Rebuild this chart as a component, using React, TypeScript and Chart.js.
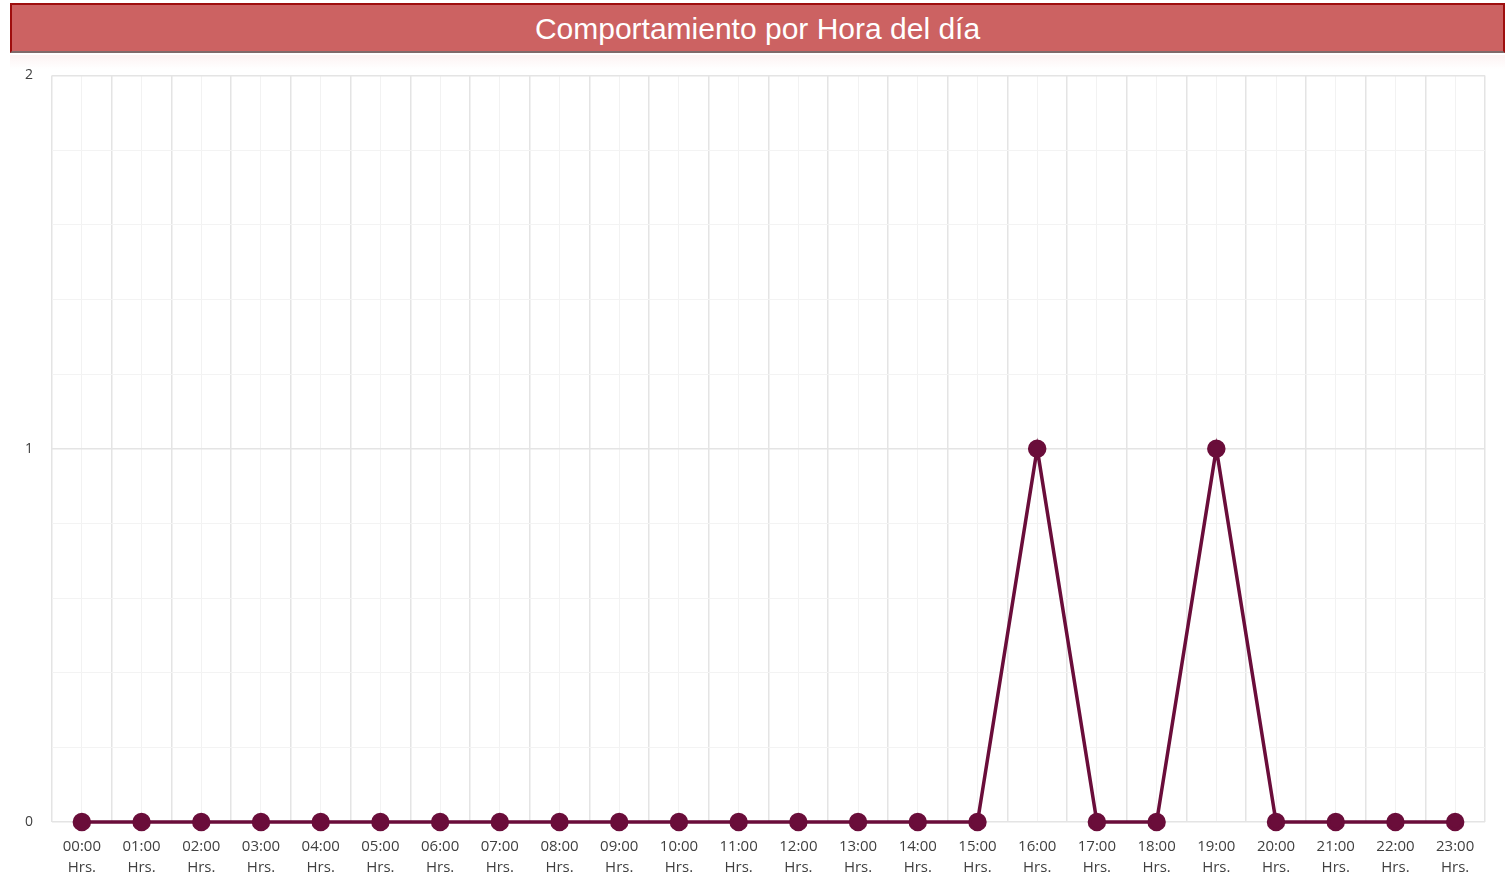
import React, { useEffect, useRef } from "react";
import { Chart, registerables } from "chart.js";

Chart.register(...registerables);

const TITLE = "Comportamiento por Hora del día";
const HOURS = [
  "00:00", "01:00", "02:00", "03:00", "04:00", "05:00", "06:00", "07:00",
  "08:00", "09:00", "10:00", "11:00", "12:00", "13:00", "14:00", "15:00",
  "16:00", "17:00", "18:00", "19:00", "20:00", "21:00", "22:00", "23:00",
];
const SUFFIX = "Hrs.";
const VALUES = [0, 0, 0, 0, 0, 0, 0, 0, 0, 0, 0, 0, 0, 0, 0, 0, 1, 0, 0, 1, 0, 0, 0, 0];
const Y_MIN = 0;
const Y_MAX = 2;
const Y_STEP = 0.2;

export default function App() {
  const ref = useRef<HTMLCanvasElement | null>(null);

  useEffect(() => {
    if (!ref.current) return;
    const labels = HOURS.map((h) => [h, SUFFIX]);
    const chart = new Chart(ref.current, {
      type: "line",
      data: {
        labels,
        datasets: [
          {
            data: VALUES,
            borderColor: "#6A0D3A",
            backgroundColor: "#6A0D3A",
            borderWidth: 3.5,
            pointRadius: 7.5,
            pointHoverRadius: 7.5,
            pointBackgroundColor: "#6A0D3A",
            pointBorderColor: "#6A0D3A",
            tension: 0,
            clip: false,
            xAxisID: "x",
            yAxisID: "y",
          },
        ],
      },
      options: {
        animation: false,
        responsive: false,
        maintainAspectRatio: false,
        layout: { padding: { top: 5, right: 22, left: 0, bottom: 0 } },
        plugins: {
          legend: { display: false },
          title: { display: false },
          tooltip: { enabled: false },
        },
        scales: {
          x: {
            type: "category",
            offset: true,
            grid: { offset: true, color: "#E4E4E4", lineWidth: 1.5, drawTicks: false },
            border: { display: false },
            ticks: {
              color: "#404040",
              font: { family: "Open Sans", size: 15, lineHeight: 1.4 },
              padding: 14,
              maxRotation: 0,
              autoSkip: false,
            },
            afterFit: (s: any) => {
              s.height = 57;
            },
          },
          x2: {
            type: "category",
            position: "bottom",
            offset: true,
            labels,
            grid: { offset: false, color: "#F2F2F2", lineWidth: 1, drawTicks: false },
            border: { display: false },
            ticks: { display: false },
            afterFit: (s: any) => {
              s.height = 0;
            },
          },
          y: {
            min: Y_MIN,
            max: Y_MAX,
            ticks: {
              stepSize: Y_STEP,
              color: "#404040",
              font: { family: "Open Sans", size: 14 },
              padding: 19,
              callback: (v: any) => (Math.abs(v - Math.round(v)) < 1e-6 ? String(Math.round(v)) : ""),
            },
            grid: {
              drawTicks: false,
              color: (ctx: any) => {
                const v = ctx.tick ? ctx.tick.value : 0;
                return Math.abs(v - Math.round(v)) < 1e-6 ? "#E4E4E4" : "#F3F3F3";
              },
              lineWidth: (ctx: any) => {
                const v = ctx.tick ? ctx.tick.value : 0;
                return Math.abs(v - Math.round(v)) < 1e-6 ? 1.5 : 1;
              },
            },
            border: { display: false },
            afterFit: (s: any) => {
              s.width = 52;
            },
          },
        },
      },
    });
    return () => chart.destroy();
  }, []);

  return (
    <div style={{ position: "absolute", left: 0, top: 0, width: 1507, height: 879, background: "#fff", overflow: "hidden" }}>
      <div
        style={{
          position: "absolute",
          left: 10,
          top: 3,
          width: 1495,
          height: 50,
          boxSizing: "border-box",
          background: "#CC6262",
          borderTop: "2px solid #9E0E0E",
          borderLeft: "2px solid #9E0E0E",
          borderRight: "2px solid #9E0E0E",
          borderBottom: "2px solid #7F6A6A",
          color: "#fff",
          fontFamily: "'Liberation Sans', Arial, sans-serif",
          fontSize: 30,
          lineHeight: "48px",
          textAlign: "center",
        }}
      >
        {TITLE}
      </div>
      <div
        style={{
          position: "absolute",
          left: 10,
          top: 55,
          width: 1495,
          height: 14,
          background: "linear-gradient(#FDF3F3, #FFFFFF)",
        }}
      />
      <canvas ref={ref} width={1507} height={831} style={{ position: "absolute", left: 0, top: 48, width: 1507, height: 831 }} />
    </div>
  );
}
